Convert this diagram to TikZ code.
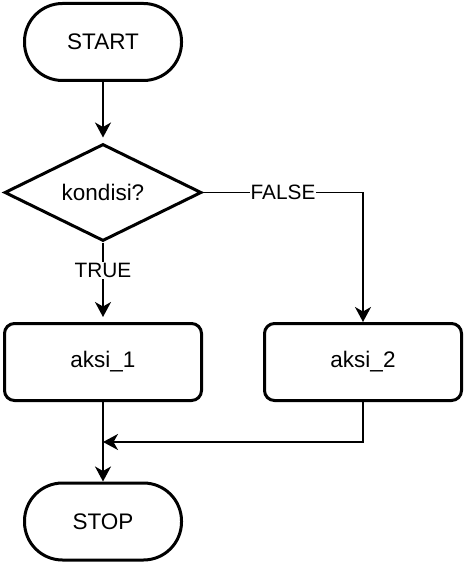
\documentclass[tikz,border=0pt]{standalone}
\usepackage{fontspec}
\setmainfont{Liberation Sans}
\usetikzlibrary{shapes.geometric,arrows.meta}
\begin{document}
\begin{tikzpicture}[x=1pt,y=-1pt,
  term/.style={draw,line width=3pt,rounded corners=38pt,minimum width=157pt,minimum height=77pt,inner sep=0pt,font=\fontsize{22.5}{27}\selectfont},
  proc/.style={draw,line width=3pt,rounded corners=10pt,minimum width=197pt,minimum height=77pt,inner sep=0pt,font=\fontsize{22.5}{27}\selectfont},
  dec/.style={draw,diamond,aspect=2,line width=3pt,minimum width=197pt,minimum height=97pt,inner sep=0pt,font=\fontsize{22.5}{27}\selectfont},
  conn/.style={line width=1.6pt,-{Stealth[length=15pt,width=16pt,inset=4.5pt]}},
  lbl/.style={fill=white,inner sep=1pt,font=\fontsize{20.8}{25}\selectfont}]
\useasboundingbox (0,0) rectangle (464,564);
\node[term] (start) at (103,42) {START};
\node[dec] (cond) at (103,192.5) {kondisi?};
\node[proc] (a1) at (103,362) {aksi\_1};
\node[proc] (a2) at (363,362) {aksi\_2};
\node[term] (stop) at (103,521.5) {STOP};
\coordinate (m) at (103,442);
\draw[conn,shorten >=5pt] (start.south) -- (cond.north);
\draw[conn,shorten >=5pt] (cond.south) -- node[lbl,pos=0.35] {TRUE} (a1.north);
\draw[conn] (cond.east) -| node[lbl,pos=0.25] {FALSE} (a2.north);
\draw[conn] (a1.south) -- (stop.north);
\draw[conn] (a2.south) |- (m);
\end{tikzpicture}
\end{document}
